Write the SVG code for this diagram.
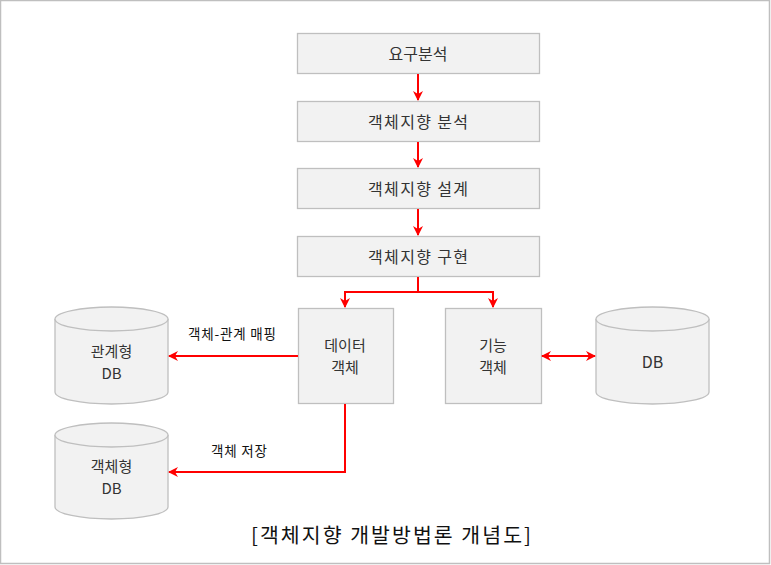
<svg xmlns="http://www.w3.org/2000/svg" width="771" height="565" viewBox="0 0 771 565">
<defs>
<style>
.box{fill:#f2f2f2;stroke:#bfbfbf;stroke-width:1.3}
.t{font-family:"Noto Sans CJK KR","Noto Sans",sans-serif;font-size:16px;fill:#333;text-anchor:middle}
.m{font-family:"Noto Sans CJK KR","Noto Sans",sans-serif;font-size:15px;fill:#333;text-anchor:middle}
.s{font-family:"Noto Sans CJK KR","Noto Sans",sans-serif;font-size:13.5px;fill:#111;text-anchor:middle}
.c{font-family:"Noto Sans CJK KR","Noto Sans",sans-serif;font-size:20.5px;fill:#111;text-anchor:middle}
.ln{fill:none;stroke:#ff0000;stroke-width:2}
</style>
<marker id="ah" viewBox="0 0 10 10" refX="9" refY="5" markerWidth="5" markerHeight="5" orient="auto-start-reverse" markerUnits="strokeWidth">
<path d="M0,0 L10,5 L0,10 L3,5 z" fill="#ff0000"/>
</marker>
</defs>
<rect x="0.5" y="0.5" width="769" height="563" fill="#fff" stroke="#bfbfbf" stroke-width="1.5"/>
<g id="req"><rect class="box" x="297.5" y="33.5" width="242" height="40"/><text class="t" x="418" y="60">요구분석</text></g>
<g id="ooa"><rect class="box" x="297.5" y="101.5" width="242" height="40"/><text class="t" x="418" y="128" textLength="100" lengthAdjust="spacing">객체지향 분석</text></g>
<g id="ood"><rect class="box" x="297.5" y="168.5" width="242" height="40"/><text class="t" x="418" y="195" textLength="100" lengthAdjust="spacing">객체지향 설계</text></g>
<g id="oop"><rect class="box" x="297.5" y="236.5" width="242" height="40"/><text class="t" x="418" y="263" textLength="100" lengthAdjust="spacing">객체지향 구현</text></g>
<g id="data"><rect class="box" x="298.5" y="308.5" width="95" height="95"/><text class="m"><tspan x="345" y="351">데이터</tspan><tspan x="345" y="373">객체</tspan></text></g>
<g id="func"><rect class="box" x="445.5" y="308.5" width="96" height="95"/><text class="m"><tspan x="493" y="351">기능</tspan><tspan x="493" y="373">객체</tspan></text></g>
<g id="rdb"><path class="box" d="M55,319 L55,392 A56.5,12 0 0 0 168,392 L168,319"/><ellipse class="box" cx="111.5" cy="319" rx="56.5" ry="12"/><text class="m"><tspan x="111.5" y="356.5">관계형</tspan><tspan x="111.5" y="378.5">DB</tspan></text></g>
<g id="odb"><path class="box" d="M55,435 L55,507 A56.5,12 0 0 0 168,507 L168,435"/><ellipse class="box" cx="111.5" cy="435" rx="56.5" ry="12"/><text class="m"><tspan x="111.5" y="472">객체형</tspan><tspan x="111.5" y="494">DB</tspan></text></g>
<g id="db"><path class="box" d="M596,319 L596,392 A56.5,12 0 0 0 709,392 L709,319"/><ellipse class="box" cx="652.5" cy="319" rx="56.5" ry="12"/><text class="t" x="652.5" y="368">DB</text></g>
<g id="connectors">
<path class="ln" d="M418,74 V100" marker-end="url(#ah)"/>
<path class="ln" d="M418,142 V167" marker-end="url(#ah)"/>
<path class="ln" d="M418,209 V235" marker-end="url(#ah)"/>
<path class="ln" d="M418,277 V292 H345 V307" marker-end="url(#ah)"/>
<path class="ln" d="M418,292 H493 V307" marker-end="url(#ah)"/>
<path class="ln" d="M298,356 H169" marker-end="url(#ah)"/>
<path class="ln" d="M345,404 V472 H169" marker-end="url(#ah)"/>
<path class="ln" d="M542,356 H595" marker-start="url(#ah)" marker-end="url(#ah)"/>
<text class="s" x="232" y="339" textLength="88" lengthAdjust="spacing">객체-관계 매핑</text>
<text class="s" x="239" y="456" textLength="56" lengthAdjust="spacing">객체 저장</text>
</g>
<text class="c" x="391" y="543" textLength="280" lengthAdjust="spacing">[객체지향 개발방법론 개념도]</text>
</svg>
